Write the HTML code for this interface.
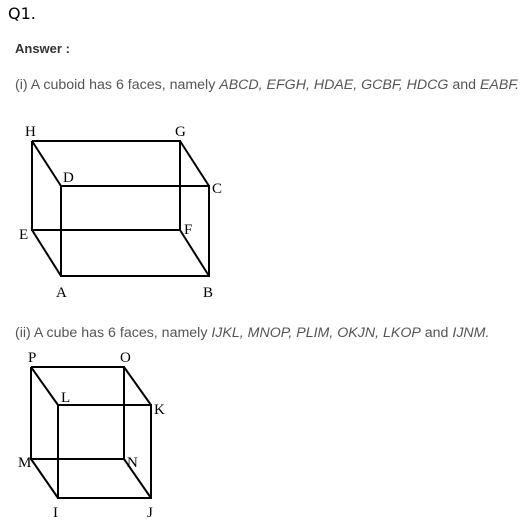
<!DOCTYPE html>
<html><head><meta charset="utf-8"><style>
body{margin:0;width:529px;height:531px;background:#fff;position:relative;overflow:hidden;font-family:"Liberation Sans",sans-serif}
.t{position:absolute;white-space:nowrap}
svg{position:absolute;left:0;top:0}
</style></head><body>
<div class="t" style="left:8px;top:4px;font-family:'DejaVu Sans',sans-serif;font-size:16px;color:#000">Q1.</div>
<div class="t" style="left:15px;top:41px;font-size:13px;font-weight:bold;color:#333">Answer :</div>
<div class="t" style="left:15px;top:77px;font-size:14.2px;color:#555">(i) A cuboid has 6 faces, namely <i>ABCD, EFGH, HDAE, GCBF, HDCG</i> and <i>EABF.</i></div>
<div class="t" style="left:15px;top:325px;font-size:14.2px;color:#555">(ii) A cube has 6 faces, namely <i>IJKL, MNOP, PLIM, OKJN, LKOP</i> and <i>IJNM.</i></div>
<svg width="529" height="531" font-family="Liberation Serif,serif" font-size="15" fill="#000">
<g stroke="#000" stroke-width="2" fill="none">
<polyline points="32,141 180,141 180,230 32,230 32,141"/>
<polyline points="61,186 209,186 209,276 61,276 61,186"/>
<line x1="32" y1="141" x2="61" y2="186"/><line x1="180" y1="141" x2="209" y2="186"/>
<line x1="32" y1="230" x2="61" y2="276"/><line x1="180" y1="230" x2="209" y2="276"/>
</g>
<g stroke="none">
<text x="25" y="136">H</text><text x="175" y="136">G</text><text x="63" y="182">D</text><text x="212" y="193">C</text>
<text x="19" y="239">E</text><text x="184" y="234">F</text><text x="56" y="297">A</text><text x="203" y="297">B</text>
</g>
<g stroke="#000" stroke-width="2" fill="none">
<polyline points="31,367 124,367 124,459 31,459 31,367"/>
<polyline points="58,405 151,405 151,498 58,498 58,405"/>
<line x1="31" y1="367" x2="58" y2="405"/><line x1="124" y1="367" x2="151" y2="405"/>
<line x1="31" y1="459" x2="58" y2="498"/><line x1="124" y1="459" x2="151" y2="498"/>
</g>
<g stroke="none">
<text x="28" y="362">P</text><text x="120" y="362">O</text><text x="61" y="402">L</text><text x="154" y="414">K</text>
<text x="18" y="467">M</text><text x="127" y="467">N</text><text x="53" y="517">I</text><text x="147" y="517">J</text>
</g>
</svg>
</body></html>
